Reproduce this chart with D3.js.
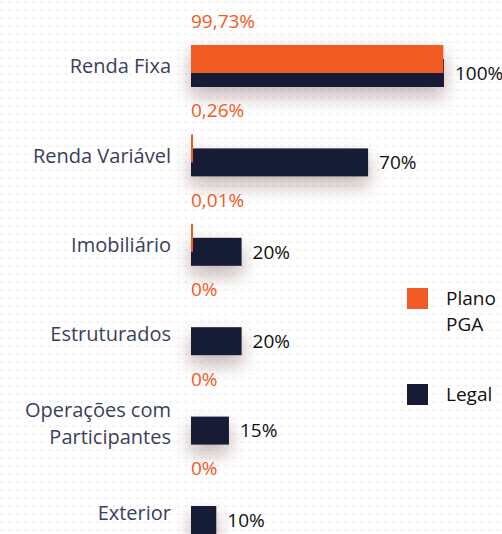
<!DOCTYPE html>
<html>
<head>
<meta charset="utf-8">
<script src="https://cdn.jsdelivr.net/npm/d3@7"></script>
<style>
  html, body { margin: 0; padding: 0; background: #fff; }
  svg { display: block; font-family: "Open Sans", Lato, sans-serif; }
</style>
</head>
<body>
<script>
// data
const categories = ['Renda Fixa', 'Renda Variável', 'Imobiliário', 'Estruturados', 'Operações com Participantes', 'Exterior']
const labelLines = [['Renda Fixa'], ['Renda Variável'], ['Imobiliário'], ['Estruturados'], ['Operações com', 'Participantes'], ['Exterior']]
const planoPGA = [99.73, 0.26, 0.01, 0, 0, 0]
const planoLabels = ['99,73%', '0,26%', '0,01%', '0%', '0%', '0%']
const legal = [100, 70, 20, 20, 15, 10]
const legalLabels = ['100%', '70%', '20%', '20%', '15%', '10%']
const seriesNames = [['Plano', 'PGA'], ['Legal']]

const orange = '#f15a24'
const navy = '#171b35'

const w = 502
const h = 534

const svg = d3.select('body')
    .append('svg')
    .attr('width', w)
    .attr('height', h)

// dotted background + shadow
const defs = svg.append('defs')
const pat = defs.append('pattern')
    .attr('id', 'dots')
    .attr('width', 8)
    .attr('height', 8)
    .attr('patternUnits', 'userSpaceOnUse')
pat.append('circle').attr('cx', 2).attr('cy', 2).attr('r', 0.9).attr('fill', '#e6e6e6')

defs.append('filter')
    .attr('id', 'shadow')
    .attr('x', '-50%').attr('y', '-100%')
    .attr('width', '200%').attr('height', '400%')
    .append('feDropShadow')
    .attr('dx', 0).attr('dy', 9)
    .attr('stdDeviation', 9)
    .attr('flood-color', '#4a2020')
    .attr('flood-opacity', 0.33)

svg.append('rect').attr('width', w).attr('height', h).attr('fill', '#fff')
svg.append('rect').attr('width', w).attr('height', h).attr('fill', 'url(#dots)')

// scales
const x = d3.scaleLinear().domain([0, 100]).range([191, 444])
const y = d3.scalePoint().domain(categories).range([59, 506]) // top of legal bar
const barH = 28
const off = 14

const rows = categories.map((c, i) => ({
    c, lines: labelLines[i], p: planoPGA[i], pl: planoLabels[i], l: legal[i], ll: legalLabels[i]
}))

const g = svg.append('g')
    .selectAll('g')
    .data(rows)
    .enter()
    .append('g')

// bars with shadow
const bars = g.append('g').attr('filter', 'url(#shadow)')
bars.append('rect')
    .attr('x', x(0))
    .attr('y', d => y(d.c))
    .attr('width', d => x(d.l) - x(0))
    .attr('height', barH)
    .attr('fill', navy)
bars.filter(d => d.p > 0)
    .append('rect')
    .attr('x', x(0))
    .attr('y', d => y(d.c) - off)
    .attr('width', d => Math.max(x(d.p) - x(0), 2))
    .attr('height', barH)
    .attr('fill', orange)

// orange value labels
g.append('text')
    .attr('x', x(0))
    .attr('y', d => y(d.c) - off - 17)
    .attr('fill', orange)
    .style('font-size', '19px')
    .text(d => d.pl)

// legal value labels
g.append('text')
    .attr('x', d => x(d.l) + 11)
    .attr('y', d => y(d.c) + barH / 2)
    .attr('dy', '0.36em')
    .attr('fill', '#111')
    .style('font-size', '19px')
    .text(d => d.ll)

// category labels
g.append('text')
    .attr('text-anchor', 'end')
    .attr('fill', '#3b3f5c')
    .style('font-size', '20px')
    .attr('y', d => y(d.c) + 7)
    .selectAll('tspan')
    .data(d => d.lines.map((t, j) => ({ t, j, n: d.lines.length })))
    .enter()
    .append('tspan')
    .attr('x', 171)
    .attr('dy', d => d.j === 0 ? (0.36 - (d.n - 1) * 0.675) + 'em' : '1.35em')
    .text(d => d.t)

// legend
const legend = svg.append('g')
    .selectAll('g')
    .data(seriesNames)
    .enter()
    .append('g')
    .attr('transform', (d, i) => `translate(407,${288 + i * 96})`)
legend.append('rect')
    .attr('width', 21)
    .attr('height', 21)
    .attr('fill', (d, i) => i === 0 ? orange : navy)
legend.selectAll('text')
    .data(d => d)
    .enter()
    .append('text')
    .attr('fill', '#111')
    .style('font-size', '19px')
    .attr('x', 39)
    .attr('y', (d, j) => 17 + j * 26)
    .text(d => d)
</script>
</body>
</html>
